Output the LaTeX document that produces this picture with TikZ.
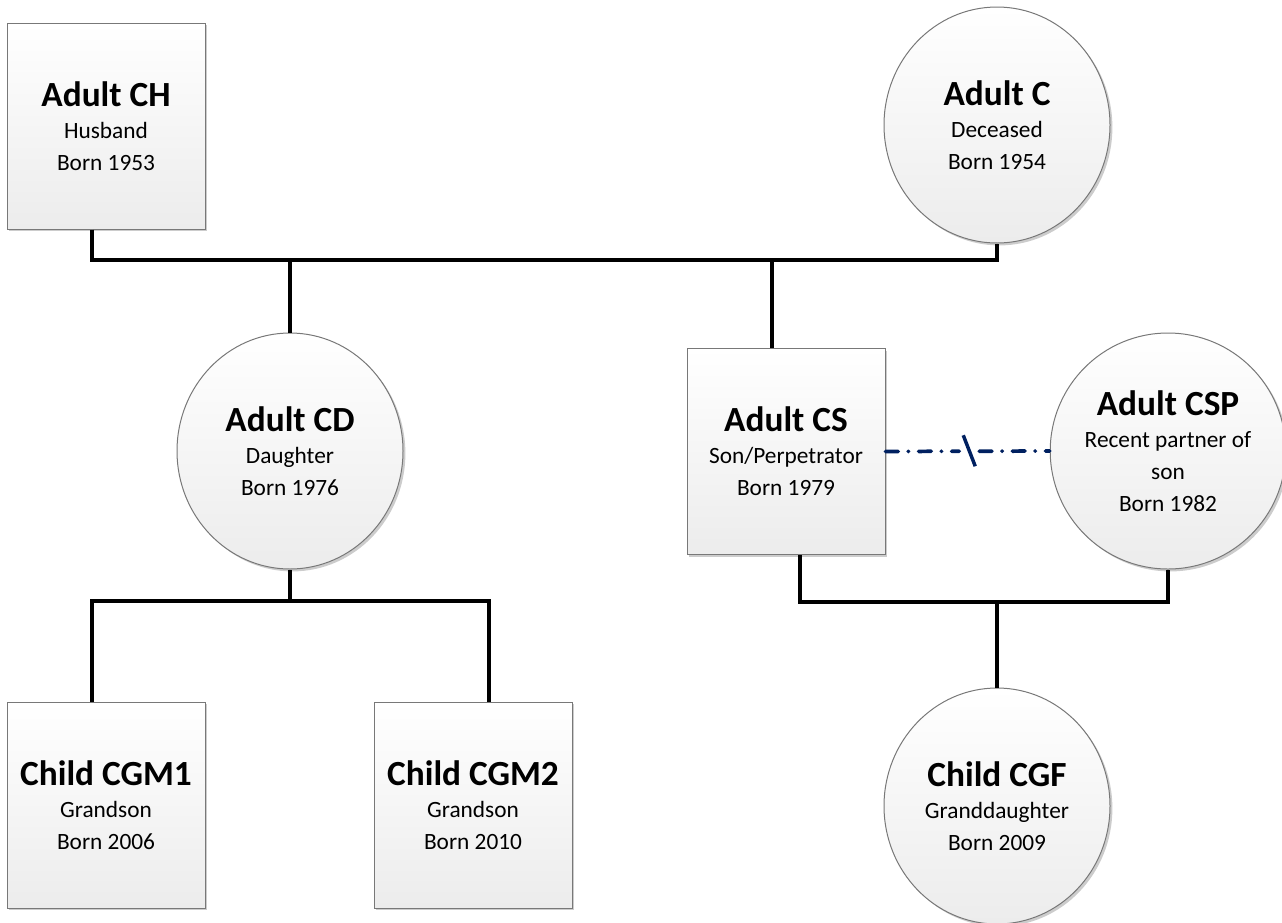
\documentclass[tikz,border=0pt]{standalone}
\usepackage{fontspec}
\setmainfont{Carlito}
\usetikzlibrary{shapes.geometric,shadows,calc}
\definecolor{navyline}{RGB}{0,32,96}
\definecolor{shapeborder}{RGB}{120,120,120}
\definecolor{shadebottom}{RGB}{236,236,236}
\tikzset{
  person/.style={draw=shapeborder, line width=0.75pt, top color=white, bottom color=shadebottom,
    drop shadow={shadow xshift=1.8pt, shadow yshift=-1.8pt, opacity=0.2, fill=black},
    align=center, inner sep=0pt, font=\fontsize{17.5}{24}\selectfont},
  malebox/.style={person, rectangle, minimum width=148.5pt, minimum height=154.5pt},
  femalecirc/.style={person, ellipse, minimum width=169.5pt, minimum height=177pt},
  kin/.style={line width=3pt, black},
  partner/.style={line width=2.8pt, navyline, line cap=round, dash pattern=on 9.5pt off 7.5pt on 0.3pt off 7.5pt},
}
\newcommand{\headline}[1]{{\fontsize{26.5}{26}\selectfont\bfseries #1}\\[0pt]}
\begin{document}
\begin{tikzpicture}[x=0.75pt,y=-0.75pt]
\useasboundingbox (0,0) rectangle (1282,922);
% people
\node[malebox] (CH) at (106,126) {\headline{Adult CH}Husband\\Born 1953};
\node[femalecirc] (C) at (997,125) {\headline{Adult C}Deceased\\Born 1954};
\node[femalecirc] (CD) at (290,451) {\headline{Adult CD}Daughter\\Born 1976};
\node[malebox] (CS) at (786,451.5) {\headline{Adult CS}Son/Perpetrator\\Born 1979};
\node[femalecirc] (CSP) at (1168,451) {\headline{Adult CSP}Recent partner of\\son\\Born 1982};
\node[malebox] (CGM1) at (106,805) {\headline{Child CGM1}Grandson\\Born 2006};
\node[malebox] (CGM2) at (473,805) {\headline{Child CGM2}Grandson\\Born 2010};
\node[femalecirc] (CGF) at (997,806) {\headline{Child CGF}Granddaughter\\Born 2009};
% bus coordinates
\coordinate (busL) at (92,260);
\coordinate (busR) at (997,260);
\coordinate (csTop) at (772,260);
\coordinate (csBot) at (800,602);
\coordinate (cspBot) at (1168,602);
\coordinate (cgfTop) at (997,602);
\coordinate (cdBus) at (290,601);
\coordinate (gm1) at (92,601);
\coordinate (gm2) at (489,601);
% connectors
\draw[kin] (CH.south -| busL) -- (busL) -- (busR) -- (C.south);
\draw[kin] (CD.north) -- (CD.north |- busL);
\draw[kin] (csTop) -- (csTop |- CS.north);
\draw[kin] (CS.south -| csBot) -- (csBot) -- (cspBot) -- (CSP.south);
\draw[kin] (cgfTop) -- (CGF.north);
\draw[kin] (CD.south) -- (cdBus);
\draw[kin] (gm1 |- CGM1.north) -- (gm1) -- (gm2) -- (gm2 |- CGM2.north);
% partner relation (separated)
\coordinate (slash) at ($(CS.east)!0.51!(CSP.west)$);
\draw[partner] (CS.east) -- ($(slash)+(-10,0)$);
\draw[partner] ($(slash)+(10,0)$) -- (CSP.west);
\draw[line width=2.6pt, navyline] ($(slash)+(-6,-16)$) -- ($(slash)+(6,15)$);
\end{tikzpicture}
\end{document}
